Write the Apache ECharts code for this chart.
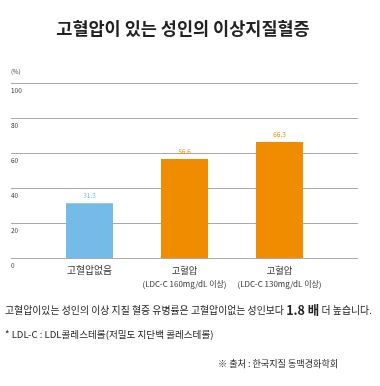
<!DOCTYPE html>
<html><head><meta charset="utf-8">
<script src="https://cdn.jsdelivr.net/npm/echarts@6/dist/echarts.min.js"></script>
<style>html,body{margin:0;padding:0;background:#fff}#c{width:380px;height:386px}</style>
</head><body><div id="c"></div>
<script>
const categories = ['고혈압없음', '고혈압\n(LDC-C 160mg/dL 이상)', '고혈압\n(LDC-C 130mg/dL 이상)'];
const values = [31.3, 56.6, 66.3];
const barColors = ['#76bbe8', '#f08c00', '#f08c00'];
const yTicks = [0, 20, 40, 60, 80, 100];
const FONT = '"Noto Sans CJK KR", "Noto Sans", sans-serif';

const chart = echarts.init(document.getElementById('c'), null, {renderer: 'canvas'});
chart.setOption({
  animation: false,
  backgroundColor: '#fff',
  textStyle: {fontFamily: FONT},
  title: {
    text: '고혈압이 있는 성인의 이상지질혈증',
    left: 178, top: 15, textAlign: 'center',
    textStyle: {fontSize: 17.5, fontWeight: 'bold', color: '#222', fontFamily: FONT}
  },
  grid: [
    {left: 11, right: 22, top: 83, bottom: 128},
    {left: 42, right: 53, top: 83, bottom: 128}
  ],
  xAxis: [
    {gridIndex: 0, type: 'value', show: false},
    {gridIndex: 1, type: 'category', data: categories,
     axisLine: {show: false}, axisTick: {show: false},
     axisLabel: {color: '#333', fontSize: 8, lineHeight: 13, margin: 6, fontFamily: FONT, interval: 0,
       formatter: function (v, i) {
         const parts = v.split('\n');
         return parts.map((p, j) => (j === 0 ? (i === 0 ? '{a|' : '{h|') : '{s|') + p + '}').join('\n');
       },
       rich: {
         a: {fontSize: 9.8, color: '#333', fontFamily: FONT, lineHeight: 13},
         h: {fontSize: 9.3, color: '#333', fontFamily: FONT, lineHeight: 13},
         s: {fontSize: 8, color: '#333', fontFamily: FONT, lineHeight: 13}
       }}}
  ],
  yAxis: [
    {gridIndex: 0, type: 'value', min: yTicks[0], max: yTicks[yTicks.length - 1], interval: 20,
     name: '(%)', nameLocation: 'end', nameGap: 8,
     nameTextStyle: {fontSize: 6, color: '#444', align: 'left', fontFamily: FONT},
     axisLine: {show: false}, axisTick: {show: false},
     axisLabel: {inside: true, align: 'left', verticalAlign: 'top', padding: [4, 0, 0, 0], margin: 0,
       fontSize: 6.5, color: '#333', fontFamily: FONT},
     splitLine: {lineStyle: {color: '#aaa', width: 1}}},
    {gridIndex: 1, type: 'value', min: 0, max: 100, interval: 20, show: false}
  ],
  series: [{
    type: 'bar', xAxisIndex: 1, yAxisIndex: 1,
    data: values.map((v, i) => ({value: v, itemStyle: {color: barColors[i]},
      label: {color: i === 0 ? '#76bbe8' : '#f08c00'}})),
    barWidth: 47,
    label: {show: true, position: 'top', fontSize: 6.5, distance: 4, fontFamily: FONT}
  }],
  graphic: [
    {type: 'text', left: 5, top: 304, style: {
      text: '{n|고혈압이있는 성인의 이상 지질 혈증 유병률은 고혈압이없는 성인보다 }{b|1.8 배}{n| 더 높습니다.}',
      rich: {
        n: {fontSize: 9.9, fill: '#222', fontFamily: FONT},
        b: {fontSize: 12.5, fontWeight: 'bold', fill: '#222', fontFamily: FONT}
      }}},
    {type: 'text', left: 5, top: 330, style: {
      text: '* LDL-C : LDL콜레스테롤(저밀도 지단백 콜레스테롤)', fontSize: 9.6, fill: '#222', fontFamily: FONT}},
    {type: 'text', left: 218, top: 359, style: {
      text: '※ 출처 : 한국지질 동맥경화학회', fontSize: 9.1, fill: '#222', fontFamily: FONT}}
  ]
});
</script></body></html>
